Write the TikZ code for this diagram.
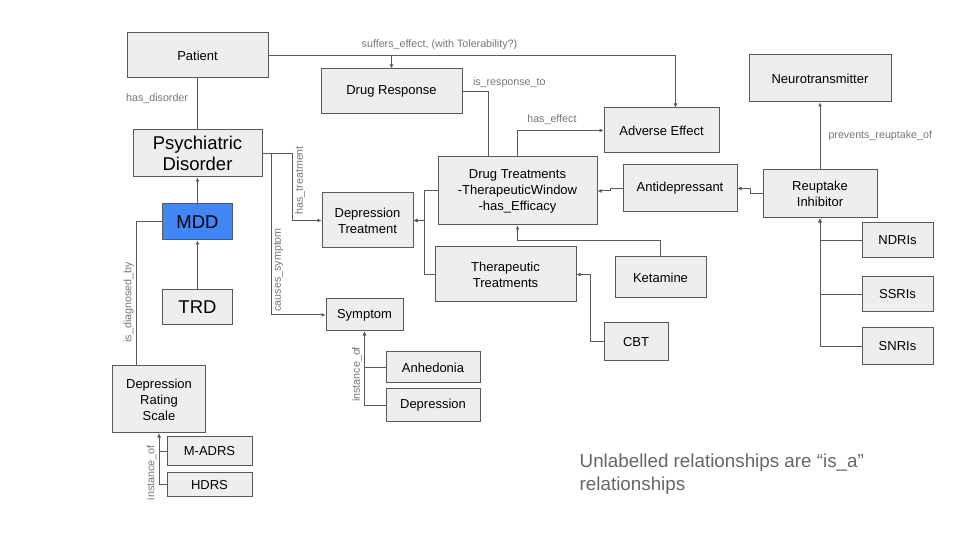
\documentclass[tikz,border=0pt]{standalone}
\usepackage{fontspec}
\setmainfont{Liberation Sans}
\usepackage{xcolor}
\usetikzlibrary{arrows.meta, positioning}

\definecolor{boxfill}{HTML}{EEEEEE}
\definecolor{boxline}{HTML}{595959}
\definecolor{mddblue}{HTML}{4285F4}
\definecolor{labelgray}{HTML}{757575}
\definecolor{notegray}{HTML}{666666}

\begin{document}
\begin{tikzpicture}[
  x=1pt, y=1pt,
  box/.style={rectangle, draw=boxline, fill=boxfill, line width=1pt, inner sep=2pt,
              align=center, font=\fontsize{13}{16}\selectfont},
  bigbox/.style={box, font=\fontsize{18.5}{21.5}\selectfont},
  lbl/.style={font=\fontsize{10.7}{12}\selectfont, text=labelgray, inner sep=2pt},
  vlbl/.style={lbl, rotate=90},
  link/.style={draw=boxline, line width=1pt},
  arrow/.style={link, -{Latex[length=4pt, width=4pt]}}
]
\useasboundingbox (0,0) rectangle (960,540);

% disorder side
\node[box, minimum width=141pt, minimum height=45pt] (patient) at (197.5,484.5) {Patient};
\node[bigbox, minimum width=129pt, minimum height=47pt, below=51pt of patient] (psych) {Psychiatric\\Disorder};
\node[bigbox, fill=mddblue, minimum width=70pt, minimum height=36pt, below=26pt of psych] (mdd) {MDD};
\node[bigbox, minimum width=70pt, minimum height=35pt, below=49pt of mdd] (trd) {TRD};
\node[box, minimum width=93pt, minimum height=67pt, below=40pt of trd, xshift=-38.5pt] (drs) {Depression\\Rating\\Scale};
\node[box, minimum width=85pt, minimum height=29pt] (madrs) at (209.5,88.5) {M-ADRS};
\node[box, minimum width=85pt, minimum height=24pt, below=6pt of madrs] (hdrs) {HDRS};

% treatment and symptom
\node[box, minimum width=141pt, minimum height=45pt] (drugresp) at (391.5,448.5) {Drug Response};
\node[box, minimum width=91pt, minimum height=55pt] (deptreat) at (367.5,319.5) {Depression\\Treatment};
\node[box, minimum width=77pt, minimum height=32pt] (symptom) at (364.5,225) {Symptom};
\node[box, minimum width=94pt, minimum height=31pt] (anhedonia) at (433,172.5) {Anhedonia};
\node[box, minimum width=94pt, minimum height=33pt, below=5pt of anhedonia] (depression) {Depression};
\node[box, minimum width=159pt, minimum height=68pt] (drugtreat) at (517.5,349) {Drug Treatments\\-TherapeuticWindow\\-has\_Efficacy};
\node[box, minimum width=141pt, minimum height=55pt] (thertreat) at (505.5,265.5) {Therapeutic\\Treatments};
\node[box, minimum width=115pt, minimum height=45pt] (adverse) at (661.5,409.5) {Adverse Effect};
\node[box, minimum width=114pt, minimum height=47pt] (antidep) at (680,351.5) {Antidepressant};
\node[box, minimum width=91pt, minimum height=41pt] (ketamine) at (660.5,262.5) {Ketamine};
\node[box, minimum width=64pt, minimum height=38pt] (cbt) at (636,198) {CBT};

% drug classes
\node[box, minimum width=142pt, minimum height=47pt] (neuro) at (820,461.5) {Neurotransmitter};
\node[box, minimum width=114pt, minimum height=48pt, below=67pt of neuro] (reuptake) {Reuptake\\Inhibitor};
\node[box, minimum width=71pt, minimum height=35pt] (ndri) at (897.5,299.5) {NDRIs};
\node[box, minimum width=71pt, minimum height=35pt, below=18pt of ndri] (ssri) {SSRIs};
\node[box, minimum width=71pt, minimum height=37pt, below=15pt of ssri] (snri) {SNRIs};

\node[font=\fontsize{18.8}{23.5}\selectfont, text=notegray, align=left, anchor=north west, inner sep=0pt] (note) at (579.5,86.5) {Unlabelled relationships are “is\_a”\\relationships};

% relations
\draw[link] (patient) -- node[lbl, left=7pt, pos=0.39] {has\_disorder} (psych);
\draw[arrow] (patient.east) -| (drugresp.north);
\draw[arrow] (patient.east) -| node[lbl, above=3pt, pos=0.21] {suffers\_effect, (with Tolerability?)} ([xshift=14pt]adverse.north);
\draw[link] (drugresp.east) -| node[lbl, above right=1pt and 8pt, pos=0] {is\_response\_to} ([xshift=-29pt]drugtreat.north);
\draw[arrow] (drugtreat.north) |- node[lbl, above=3pt, pos=0.7] {has\_effect} (adverse.west);
\draw[arrow] (antidep.west) -- ++(-12pt,0) |- (drugtreat.east);
\draw[arrow] (reuptake.west) -- ++(-12pt,0) |- (antidep.east);
\draw[arrow] (reuptake) -- node[lbl, right=6pt] {prevents\_reuptake\_of} (neuro);
\foreach \cls in {ndri, ssri, snri}
  \draw[arrow] (\cls.west) -| (reuptake.south);
\draw[arrow] (ketamine.north) -- ++(0,16pt) -| (drugtreat.south);
\draw[arrow] (cbt.west) -- ++(-13pt,0) |- (thertreat.east);
\draw[arrow] (drugtreat.west) -- ++(-13pt,0) |- (deptreat.east);
\draw[arrow] (thertreat.west) -- ++(-10pt,0) |- (deptreat.east);
\draw[arrow] (psych.east) -- ++(30pt,0) |- node[vlbl, anchor=north, pos=0.2] {has\_treatment} (deptreat.west);
\draw[arrow] (psych.east) -- ++(9pt,0) |- node[vlbl, anchor=north, pos=0.36] {causes\_symptom} (symptom.west);
\draw[arrow] (mdd) -- (psych);
\draw[arrow] (trd) -- (mdd);
\draw[link] (mdd.west) -| node[vlbl, anchor=south, pos=0.78] {is\_diagnosed\_by} ([xshift=-23pt]drs.north);
\draw[arrow] (madrs.west) -| (drs.south);
\draw[arrow] (hdrs.west) -| node[vlbl, anchor=south, pos=0.62] {instance\_of} (drs.south);
\draw[arrow] (anhedonia.west) -| (symptom.south);
\draw[arrow] (depression.west) -| node[vlbl, anchor=south, pos=0.71] {instance\_of} (symptom.south);
\end{tikzpicture}
\end{document}
